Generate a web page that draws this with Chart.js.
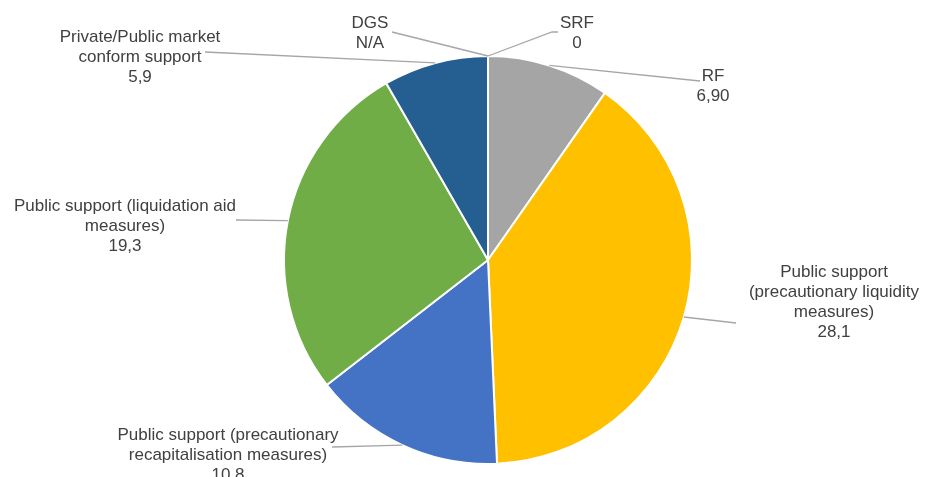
<!DOCTYPE html>
<html>
<head>
<meta charset="utf-8">
<script src="https://cdn.jsdelivr.net/npm/chart.js@4"></script>
<style>
  html, body { margin: 0; padding: 0; background: #fff; }
  #wrap { width: 926px; height: 477px; }
</style>
</head>
<body>
<div id="wrap"><canvas id="myChart" width="926" height="477"></canvas></div>
<script>
// data (clockwise from 12 o'clock)
var categories = ['SRF', 'RF', 'Public support (precautionary liquidity measures)',
  'Public support (precautionary recapitalisation measures)',
  'Public support (liquidation aid measures)', 'Private/Public market conform support', 'DGS'];
var values = [0, 6.9, 28.1, 10.8, 19.3, 5.9, 0];
var valueLabels = ['0', '6,90', '28,1', '10,8', '19,3', '5,9', 'N/A'];
var labelLines = [
  ['SRF'],
  ['RF'],
  ['Public support', '(precautionary liquidity', 'measures)'],
  ['Public support (precautionary', 'recapitalisation measures)'],
  ['Public support (liquidation aid', 'measures)'],
  ['Private/Public market', 'conform support'],
  ['DGS']
];
var colors = ['#a5a5a5', '#a5a5a5', '#ffc000', '#4472c4', '#70ad47', '#255e91', '#a5a5a5'];

// where each label sits, relative to the pie centre: text centre x, first line y, leader end x/y, optional elbow
var labelPlace = [
  { tx: 89, ty: -237, ex: 70, ey: -228, bx: 64, by: -228 },
  { tx: 225, ty: -184, ex: 212, ey: -179 },
  { tx: 346, ty: 12, ex: 248, ey: 63 },
  { tx: -260, ty: 175, ex: -156, ey: 187 },
  { tx: -363, ty: -54, ex: -252, ey: -40 },
  { tx: -348, ty: -223, ex: -283, ey: -208 },
  { tx: -118, ty: -237, ex: -96, ey: -228 }
];

const labelPlugin = {
  id: 'outLabels',
  afterDatasetsDraw(chart) {
    const c = chart.ctx;
    const arcs = chart.getDatasetMeta(0).data;
    c.save();
    c.font = '17px "Liberation Sans", Arial, sans-serif';
    c.fillStyle = '#404040';
    c.textAlign = 'center';
    c.textBaseline = 'middle';
    arcs.forEach(function (arc, i) {
      const p = labelPlace[i];
      const cx = arc.x, cy = arc.y;
      const mid = (arc.startAngle + arc.endAngle) / 2;
      const ax = cx + Math.cos(mid) * arc.outerRadius;
      const ay = cy + Math.sin(mid) * arc.outerRadius;
      c.strokeStyle = '#a6a6a6';
      c.lineWidth = 1.3;
      c.beginPath();
      c.moveTo(ax, ay);
      if (p.bx !== undefined) {
        c.lineTo(cx + p.bx, cy + p.by);
      }
      c.lineTo(cx + p.ex, cy + p.ey);
      c.stroke();
      const lines = labelLines[i].concat([valueLabels[i]]);
      lines.forEach(function (t, k) {
        c.fillText(t, cx + p.tx, cy + p.ty + k * 20);
      });
    });
    c.restore();
  }
};

const ctx = document.getElementById('myChart').getContext('2d');
const myChart = new Chart(ctx, {
  type: 'pie',
  data: {
    labels: categories,
    datasets: [{
      data: values,
      backgroundColor: colors,
      borderColor: '#ffffff',
      borderWidth: 2
    }]
  },
  options: {
    responsive: false,
    animation: false,
    layout: { padding: { top: 55, bottom: 12, left: 50, right: 0 } },
    plugins: {
      legend: { display: false },
      tooltip: { enabled: false }
    }
  },
  plugins: [labelPlugin]
});
</script>
</body>
</html>
